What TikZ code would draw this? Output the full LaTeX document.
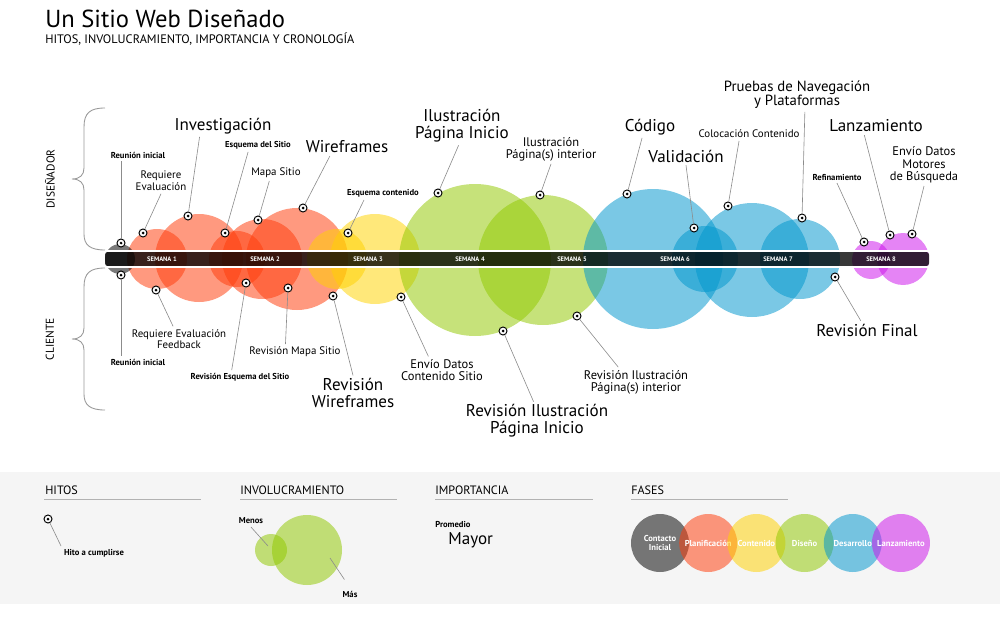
\documentclass[tikz,border=0pt]{standalone}
\usepackage{fontspec}
\setmainfont{PT Sans}
\definecolor{naranja}{RGB}{255,60,10}
\definecolor{amarillo}{RGB}{255,210,0}
\definecolor{verde}{RGB}{145,200,0}
\definecolor{azul}{RGB}{0,150,205}
\definecolor{morado}{RGB}{205,20,235}
\begin{document}
\begin{tikzpicture}[
                        x=0.02cm,
                        y=-0.02cm,
                        node distance=0.964cm,
                        burbuja/.style={
                            fill opacity=0.52
                        },
                        hito/.style={
                            circle,
                            draw=black,
                            fill=white,
                            line width=0.55pt,
                            inner sep=0pt,
                            minimum size=0.16cm,
                            path picture={\fill [black] (path picture bounding box.center) circle (0.03cm);}
                        },
                        line/.style={
                            draw,
                            black!45,
                            line width=0.35pt
                        },
                        grande/.style={
                            align=center,
                            inner sep=1.5pt,
                            font=\fontsize{9.7}{9.5}\selectfont
                        },
                        mediana/.style={
                            align=center,
                            inner sep=1.5pt,
                            font=\fontsize{7.1}{6.9}\selectfont
                        },
                        chica/.style={
                            align=center,
                            inner sep=1.5pt,
                            font=\fontsize{6.2}{5.3}\selectfont
                        },
                        negrita/.style={
                            align=center,
                            inner sep=1.5pt,
                            font=\bfseries\fontsize{4.9}{5.5}\selectfont
                        },
                        semana/.style={
                            text=white,
                            inner sep=0pt,
                            font=\bfseries\fontsize{3.7}{4}\selectfont
                        },
                        cabecera/.style={
                            anchor=west,
                            inner sep=0pt,
                            font=\fontsize{6.9}{7.5}\selectfont
                        },
                        fase/.style={
                            circle,
                            minimum size=1.16cm,
                            inner sep=0pt,
                            fill opacity=0.52,
                            text opacity=1,
                            text=white,
                            align=center,
                            font=\bfseries\fontsize{4.9}{5.2}\selectfont
                        }]

                        \useasboundingbox (0,0) rectangle (1000,635);

                        % titulo
                        \node (titulo) [anchor=west, inner sep=0pt, font=\fontsize{14}{15}\selectfont] at (45,19) {Un Sitio Web Diseñado};
                        \node (subtitulo) [anchor=west, inner sep=0pt, font=\fontsize{7}{8}\selectfont] at (45,39) {HITOS, INVOLUCRAMIENTO, IMPORTANCIA Y CRONOLOGÍA};

                        % llaves
                        \draw [black!40, line width=0.5pt] (105,108) .. controls (90,108) and (84,113) .. (84,127)
                            -- (84,168) .. controls (84,175) and (80,179) .. (72,179)
                            .. controls (80,179) and (84,183) .. (84,190)
                            -- (84,234) .. controls (84,245) and (90,250) .. (105,250);
                        \draw [black!40, line width=0.5pt] (105,268) .. controls (90,268) and (84,273) .. (84,287)
                            -- (84,328) .. controls (84,335) and (80,339) .. (72,339)
                            .. controls (80,339) and (84,343) .. (84,350)
                            -- (84,394) .. controls (84,405) and (90,410) .. (105,410);
                        \node (disenador) [rotate=90, font=\fontsize{6.5}{7}\selectfont] at (50,179) {DISEÑADOR};
                        \node (cliente) [rotate=90, font=\fontsize{6.5}{7}\selectfont] at (50,339) {CLIENTE};

                        % burbujas
                        \fill [naranja, burbuja] (157,259) circle (30);
                        \fill [naranja, burbuja] (199,258) circle (44);
                        \fill [naranja, burbuja] (237,259) circle (28);
                        \fill [naranja, burbuja] (262,259) circle (40);
                        \fill [naranja, burbuja] (297,259) circle (51);
                        \fill [amarillo, burbuja] (337,259) circle (30);
                        \fill [amarillo, burbuja] (375,259) circle (45);
                        \fill [verde, burbuja] (475,260) circle (76);
                        \fill [verde, burbuja] (543,260) circle (65);
                        \fill [azul, burbuja] (653,259) circle (70);
                        \fill [azul, burbuja] (705,259) circle (33);
                        \fill [azul, burbuja] (752,260) circle (57);
                        \fill [azul, burbuja] (800,259) circle (40);
                        \fill [morado, burbuja] (871,260) circle (19);
                        \fill [morado, burbuja] (903,259) circle (26);
                        \fill [black, burbuja] (120,259) circle (15);

                        % barra
                        \fill [black, fill opacity=0.78, rounded corners=1.5pt] (105,252) rectangle (929,266);
                        \draw [white, line width=0.7pt] (105,251) -- (929,251);
                        \draw [white, line width=0.7pt] (105,267) -- (929,267);
                        \node (semana_1) [semana] at (162,259) {SEMANA 1};
                        \node (semana_2) [semana] at (265,259) {SEMANA 2};
                        \node (semana_3) [semana] at (368,259) {SEMANA 3};
                        \node (semana_4) [semana] at (470,259) {SEMANA 4};
                        \node (semana_5) [semana] at (572,259) {SEMANA 5};
                        \node (semana_6) [semana] at (675,259) {SEMANA 6};
                        \node (semana_7) [semana] at (778,259) {SEMANA 7};
                        \node (semana_8) [semana] at (881,259) {SEMANA 8};

                        % diseñador
                        \node (reunion_dis) [negrita] at (138,155) {Reunión inicial};
                        \node (requiere_eval) [chica] at (161,181) {Requiere\\Evaluación};
                        \node (investigacion) [grande] at (223,126) {Investigación};
                        \node (esquema_sitio) [negrita] at (258,145) {Esquema del Sitio};
                        \node (mapa_sitio) [chica] at (276,173) {Mapa Sitio};
                        \node (wireframes) [grande] at (347,147) {Wireframes};
                        \node (esquema_contenido) [negrita] at (383,193) {Esquema contenido};
                        \node (ilus_inicio) [grande] at (462,126) {Ilustración\\Página Inicio};
                        \node (ilus_interior) [mediana] at (551,149) {Ilustración\\Página(s) interior};
                        \node (codigo) [grande] at (650,127) {Código};
                        \node (validacion) [grande] at (686,156) {Validación};
                        \node (colocacion) [chica] at (749,134) {Colocación Contenido};
                        \node (pruebas) [grande, font=\fontsize{8.4}{8}\selectfont] at (797,95) {Pruebas de Navegación\\y Plataformas};
                        \node (refinamiento) [negrita] at (837,177) {Refinamiento};
                        \node (lanzamiento) [grande] at (876,126) {Lanzamiento};
                        \node (envio_motores) [grande, font=\fontsize{7.1}{7}\selectfont] at (924,165) {Envío Datos\\Motores\\de Búsqueda};

                        \node (reunion_dis_hito) [hito] at (121,243) {};
                        \node (requiere_eval_hito) [hito] at (143,233) {};
                        \node (investigacion_hito) [hito] at (188,216) {};
                        \node (esquema_sitio_hito) [hito] at (225,233) {};
                        \node (mapa_sitio_hito) [hito] at (258,220) {};
                        \node (wireframes_hito) [hito] at (303,208) {};
                        \node (esquema_contenido_hito) [hito] at (348,233) {};
                        \node (ilus_inicio_hito) [hito] at (438,193) {};
                        \node (ilus_interior_hito) [hito] at (540,195) {};
                        \node (codigo_hito) [hito] at (627,194) {};
                        \node (validacion_hito) [hito] at (694,228) {};
                        \node (colocacion_hito) [hito] at (728,206) {};
                        \node (pruebas_hito) [hito] at (802,218) {};
                        \node (refinamiento_hito) [hito] at (864,242) {};
                        \node (lanzamiento_hito) [hito] at (890,235) {};
                        \node (envio_motores_hito) [hito] at (912,234) {};

                        \draw [line] (reunion_dis_hito) -- (reunion_dis_hito |- reunion_dis.south);
                        \draw [line] (requiere_eval_hito) -- (requiere_eval.south);
                        \draw [line] (investigacion_hito) -- (investigacion.205);
                        \draw [line] (esquema_sitio_hito) -- (esquema_sitio.215);
                        \draw [line] (mapa_sitio_hito) -- (mapa_sitio.230);
                        \draw [line] (wireframes_hito) -- (wireframes.208);
                        \draw [line] (esquema_contenido_hito) -- (esquema_contenido.200);
                        \draw [line] (ilus_inicio_hito) -- (ilus_inicio.260);
                        \draw [line] (ilus_interior_hito) -- (ilus_interior.south);
                        \draw [line] (codigo_hito) -- (codigo.234);
                        \draw [line] (validacion_hito) -- (validacion.south);
                        \draw [line] (colocacion_hito) -- (colocacion.215);
                        \draw [line] (pruebas_hito) -- (pruebas.295);
                        \draw [line] (refinamiento_hito) -- (refinamiento.south);
                        \draw [line] (lanzamiento_hito) -- (lanzamiento.218);
                        \draw [line] (envio_motores_hito) -- (envio_motores.south);

                        % cliente
                        \node (reunion_cli) [negrita] at (138,362) {Reunión inicial};
                        \node (requiere_feedback) [chica] at (179,339) {Requiere Evaluación\\Feedback};
                        \node (rev_esquema) [negrita] at (240,377) {Revisión Esquema del Sitio};
                        \node (rev_mapa) [chica] at (295,352) {Revisión Mapa Sitio};
                        \node (rev_wireframes) [grande] at (353,393) {Revisión\\Wireframes};
                        \node (envio_contenido) [mediana] at (442,370) {Envío Datos\\Contenido Sitio};
                        \node (rev_ilus_inicio) [grande] at (537,421) {Revisión Ilustración\\Página Inicio};
                        \node (rev_ilus_interior) [mediana] at (636,382) {Revisión Ilustración\\Página(s) interior};
                        \node (rev_final) [grande] at (867,330) {Revisión Final};

                        \node (reunion_cli_hito) [hito] at (121,275) {};
                        \node (requiere_feedback_hito) [hito] at (156,290) {};
                        \node (rev_esquema_hito) [hito] at (246,283) {};
                        \node (rev_mapa_hito) [hito] at (288,288) {};
                        \node (rev_wireframes_hito) [hito] at (333,296) {};
                        \node (envio_contenido_hito) [hito] at (401,297) {};
                        \node (rev_ilus_inicio_hito) [hito] at (503,331) {};
                        \node (rev_ilus_interior_hito) [hito] at (577,316) {};
                        \node (rev_final_hito) [hito] at (835,277) {};

                        \draw [line] (reunion_cli_hito) -- (reunion_cli_hito |- reunion_cli.north);
                        \draw [line] (requiere_feedback_hito) -- (requiere_feedback.115);
                        \draw [line] (rev_esquema_hito) -- (rev_esquema.140);
                        \draw [line] (rev_mapa_hito) -- (rev_mapa.140);
                        \draw [line] (rev_wireframes_hito) -- (rev_wireframes.north);
                        \draw [line] (envio_contenido_hito) -- (envio_contenido.135);
                        \draw [line] (rev_ilus_inicio_hito) -- (rev_ilus_inicio.100);
                        \draw [line] (rev_ilus_interior_hito) -- (rev_ilus_interior.140);
                        \draw [line] (rev_final_hito) -- (rev_final.124);

                        % leyenda
                        \fill [black!4] (0,472) rectangle (1000,604);
                        \node (hitos) [cabecera] at (45,490) {HITOS};
                        \node (involucramiento) [cabecera] at (240,490) {INVOLUCRAMIENTO};
                        \node (importancia) [cabecera] at (435,490) {IMPORTANCIA};
                        \node (fases) [cabecera] at (631,490) {FASES};
                        \draw [black!30, line width=0.5pt] (44,499) -- (201,499);
                        \draw [black!30, line width=0.5pt] (240,499) -- (397,499);
                        \draw [black!30, line width=0.5pt] (435,499) -- (593,499);
                        \draw [black!30, line width=0.5pt] (631,499) -- (788,499);

                        \node (hito_leyenda) [hito] at (48,519) {};
                        \node (hito_cumplirse) [negrita] at (94,553) {Hito a cumplirse};
                        \draw [line] (hito_leyenda) -- (hito_cumplirse.north west);

                        \fill [verde, burbuja] (271,550) circle (16);
                        \fill [verde, burbuja] (307,550) circle (35);
                        \node (menos) [negrita] at (251,521) {Menos};
                        \node (mas) [negrita] at (350,594) {Más};
                        \coordinate (menos_punto) at (268,546);
                        \coordinate (mas_punto) at (330,558);
                        \draw [line] (menos.south) -- (menos_punto);
                        \draw [line, shorten >=0.2cm] (mas_punto) -- (mas.north);

                        \node (promedio) [negrita, anchor=west, inner sep=0pt] at (435,524) {Promedio};
                        \node (mayor) [grande, anchor=west, inner sep=0pt] at (448,540) {Mayor};

                        \node (contacto) [fase, fill=black] at (660,543) {Contacto\\Inicial};
                        \node (planificacion) [fase, fill=naranja, right of=contacto] {Planificación};
                        \node (contenido) [fase, fill=amarillo, right of=planificacion] {Contenido};
                        \node (diseno) [fase, fill=verde, right of=contenido] {Diseño};
                        \node (desarrollo) [fase, fill=azul, right of=diseno] {Desarrollo};
                        \node (lanzamiento_fase) [fase, fill=morado, right of=desarrollo] {Lanzamiento};

                    \end{tikzpicture}
\end{document}
